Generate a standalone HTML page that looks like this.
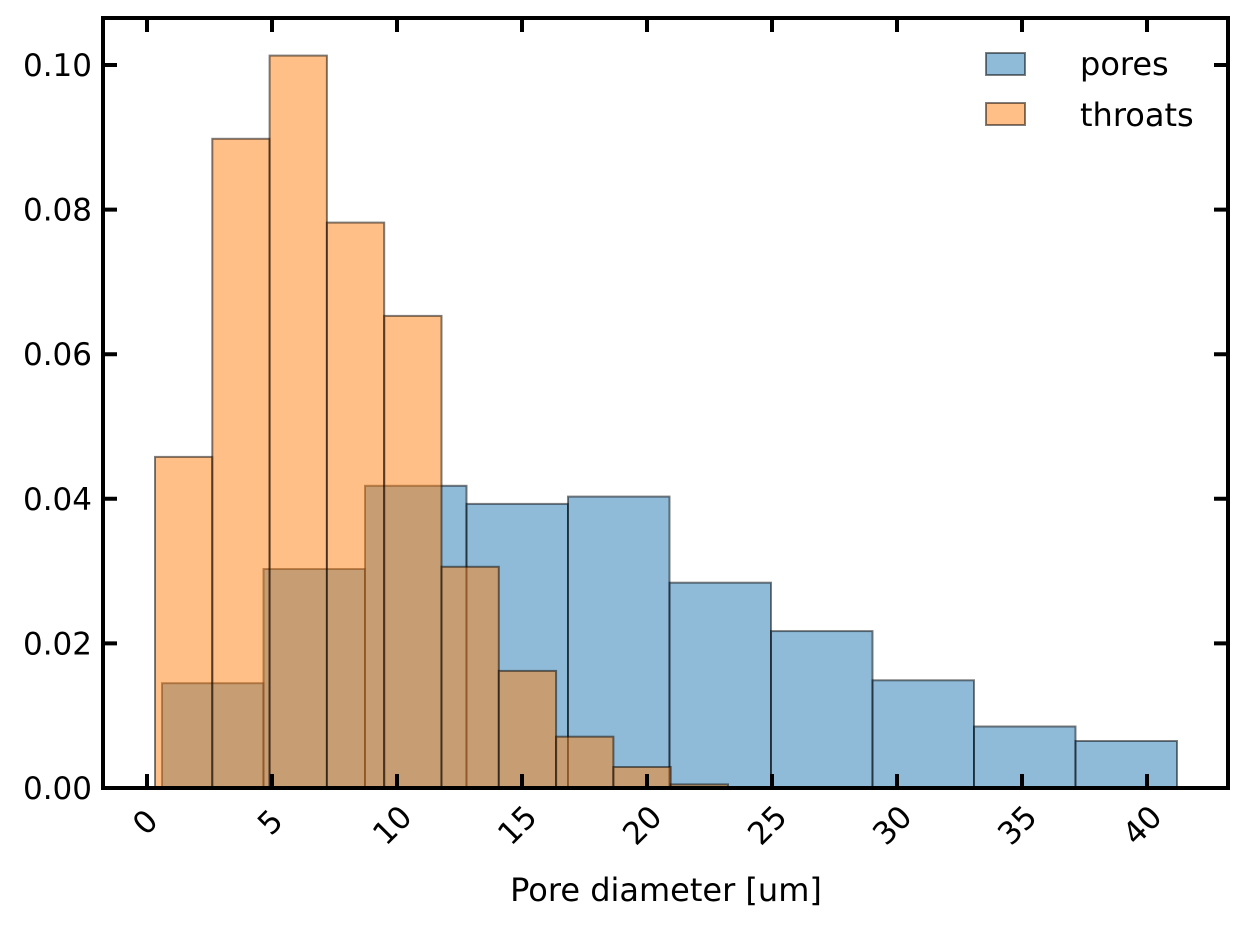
<!DOCTYPE html>
<html><head><meta charset="utf-8"><style>body{margin:0;background:#fff}svg{display:block}text{font-family:"DejaVu Sans","Liberation Sans",sans-serif}</style></head>
<body>
<svg width="1247" height="927" xmlns="http://www.w3.org/2000/svg">
<rect width="1247" height="927" fill="#fff"/>
<g stroke="#000" stroke-opacity="0.5" stroke-width="2">
<g fill="#1f77b4" fill-opacity="0.5">
<rect x="162" y="683.2" width="101.5" height="104.8"/>
<rect x="263.5" y="569" width="101.5" height="219"/>
<rect x="365" y="485.8" width="101.5" height="302.2"/>
<rect x="466.5" y="503.9" width="101.5" height="284.1"/>
<rect x="568" y="496.6" width="101.5" height="291.4"/>
<rect x="669.5" y="582.7" width="101.5" height="205.3"/>
<rect x="771" y="631.1" width="101.5" height="156.9"/>
<rect x="872.5" y="680.3" width="101.5" height="107.7"/>
<rect x="974" y="726.5" width="101.5" height="61.5"/>
<rect x="1075.5" y="741" width="101.5" height="47"/>
</g>
<g fill="#ff7f0e" fill-opacity="0.5">
<rect x="155" y="456.9" width="57.3" height="331.1"/>
<rect x="212.3" y="138.8" width="57.3" height="649.2"/>
<rect x="269.6" y="55.6" width="57.3" height="732.4"/>
<rect x="326.9" y="222.6" width="57.3" height="565.4"/>
<rect x="384.2" y="315.9" width="57.3" height="472.1"/>
<rect x="441.5" y="566.8" width="57.3" height="221.2"/>
<rect x="498.8" y="670.9" width="57.3" height="117.1"/>
<rect x="556.1" y="736.7" width="57.3" height="51.3"/>
<rect x="613.4" y="767" width="57.3" height="21"/>
<rect x="670.7" y="784.4" width="57.3" height="3.6"/>
</g>
</g>
<rect x="103" y="18" width="1125" height="770" fill="none" stroke="#000" stroke-width="4"/>
<g stroke="#000" stroke-width="4">
<path d="M147 788v-14M272 788v-14M397 788v-14M522 788v-14M647 788v-14M772 788v-14M897 788v-14M1022 788v-14M1147 788v-14"/>
<path d="M147 18v14M272 18v14M397 18v14M522 18v14M647 18v14M772 18v14M897 18v14M1022 18v14M1147 18v14"/>
<path d="M103 788h14M103 643.4h14M103 498.8h14M103 354.2h14M103 209.6h14M103 65h14"/>
<path d="M1228 788h-14M1228 643.4h-14M1228 498.8h-14M1228 354.2h-14M1228 209.6h-14M1228 65h-14"/>
</g>
<g font-size="31" text-anchor="end" fill="#000">
<text x="92" y="799">0.00</text><text x="92" y="654.4">0.02</text><text x="92" y="509.8">0.04</text>
<text x="92" y="365.2">0.06</text><text x="92" y="220.6">0.08</text><text x="92" y="76">0.10</text>
</g>
<g font-size="31" text-anchor="middle" fill="#000">
<text transform="translate(145,822) rotate(-45)" dy="11">0</text>
<text transform="translate(270,822) rotate(-45)" dy="11">5</text>
<text transform="translate(392,825) rotate(-45)" dy="11">10</text>
<text transform="translate(517,825) rotate(-45)" dy="11">15</text>
<text transform="translate(642,825) rotate(-45)" dy="11">20</text>
<text transform="translate(767,825) rotate(-45)" dy="11">25</text>
<text transform="translate(892,825) rotate(-45)" dy="11">30</text>
<text transform="translate(1017,825) rotate(-45)" dy="11">35</text>
<text transform="translate(1142,825) rotate(-45)" dy="11">40</text>
</g>
<text x="666" y="901" font-size="32" text-anchor="middle">Pore diameter [um]</text>
<g stroke="#000" stroke-opacity="0.5" stroke-width="2">
<rect x="986" y="53" width="39" height="22" fill="#1f77b4" fill-opacity="0.5"/>
<rect x="986" y="103" width="39" height="22" fill="#ff7f0e" fill-opacity="0.5"/>
</g>
<text x="1080" y="75" font-size="32">pores</text>
<text x="1080" y="126" font-size="32">throats</text>
</svg>
</body></html>
